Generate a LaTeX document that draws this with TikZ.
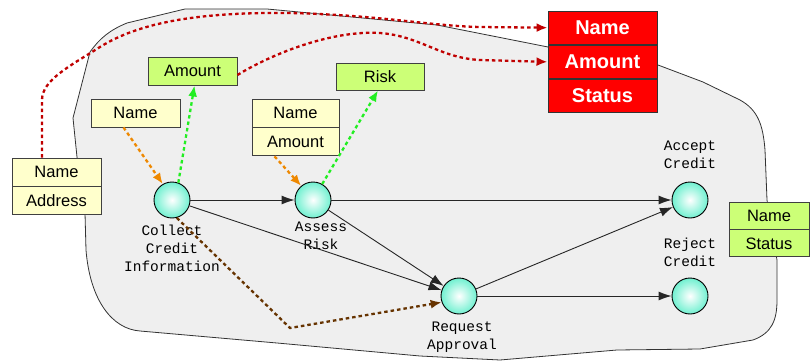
\documentclass[tikz,border=0pt]{standalone}
\usepackage{fontspec}
\setmainfont{Liberation Sans}
\newfontfamily\labelfont{Liberation Mono}
\usetikzlibrary{positioning,arrows.meta}

\definecolor{blobgray}{HTML}{EFEFEF}
\definecolor{boxyellow}{HTML}{FFFFCC}
\definecolor{boxgreen}{HTML}{CCFF77}
\definecolor{dotred}{HTML}{C00000}
\definecolor{dotorange}{HTML}{EE8800}
\definecolor{dotgreen}{HTML}{22EE22}
\definecolor{dotbrown}{HTML}{663300}
\definecolor{ballcyan}{HTML}{70F0D0}

\begin{document}
\begin{tikzpicture}[x=1pt, y=-1pt,
  font=\fontsize{16.5}{18}\selectfont,
  field/.style={draw=black!75, line width=0.9pt, minimum height=28pt, inner sep=0pt},
  yfield/.style={field, fill=boxyellow, minimum width=89pt},
  gfield/.style={field, fill=boxgreen},
  rfield/.style={draw=black!80, line width=0.9pt, fill=red, text=white,
    minimum width=109pt, minimum height=33.3pt, inner sep=0pt,
    font=\fontsize{20}{22}\selectfont\bfseries},
  act/.style={circle, draw=black, line width=0.9pt, minimum size=36pt,
    inner sep=0pt, inner color=white, outer color=ballcyan},
  lbl/.style={align=center, inner sep=0pt, font=\labelfont\fontsize{14.5}{18}\selectfont},
  flow/.style={draw=black!85, line width=0.9pt, -{Latex[length=13pt,width=9pt]}},
  dots/.style={line width=2.3pt, dash pattern=on 3.5pt off 3pt, -{Latex[length=11pt,width=9pt]}},
]
  \useasboundingbox (0,0) rectangle (811,361);

  % process region
  \draw[fill=blobgray, draw=black!80, line width=0.8pt]
    (77,157) -- (73,118) -- (90,52) .. controls (100,38) and (110,30) .. (127,23)
    -- (185,9) -- (267,9) -- (437,25) -- (548,47) -- (658,65) -- (703,82) -- (740,100)
    .. controls (758,110) and (763,125) .. (765,150) -- (767,200) -- (777,260) -- (777,300)
    .. controls (777,320) and (772,333) .. (753,340) -- (700,349) -- (617,350)
    -- (500,360) -- (420,356) -- (277,343) -- (140,331)
    .. controls (112,329) and (90,300) .. (86,250) -- (85,213) -- cycle;

  % activities
  \node[act] (collect) at (172,200) {};
  \node[act] (assess)  at (313,200) {};
  \node[act] (request) at (459,296) {};
  \node[act] (accept)  at (690,200) {};
  \node[act] (reject)  at (690,296) {};

  \node[lbl] (collectlbl) at (172,248) {Collect\\Credit\\Information};
  \node[lbl] (assesslbl)  at (321,236) {Assess\\Risk};
  \node[lbl] (requestlbl) at (462,337) {Request\\Approval};
  \node[lbl] (acceptlbl)  at (690,155) {Accept\\Credit};
  \node[lbl] (rejectlbl)  at (690,252) {Reject\\Credit};

  % data fields
  \node[yfield] (lname) at (56.5,172) {Name};
  \node[yfield, below=0pt of lname] (laddress) {Address};

  \node[yfield] (yname) at (135.5,113) {Name};
  \node[gfield, minimum width=89pt] (gamount) at (192.5,71) {Amount};

  \node[yfield, minimum width=87pt] (yname2) at (295.5,113) {Name};
  \node[yfield, minimum width=87pt, below=0pt of yname2] (yamount) {Amount};
  \node[gfield, minimum width=88pt, minimum height=27pt] (risk) at (380,76.5) {Risk};

  \node[rfield] (rname) at (602.5,27.7) {Name};
  \node[rfield, below=0pt of rname] (ramount) {Amount};
  \node[rfield, below=0pt of ramount] (rstatus) {Status};

  \node[gfield, minimum width=80pt, minimum height=27pt] (gname) at (769,215.5) {Name};
  \node[gfield, minimum width=80pt, minimum height=27pt, below=0pt of gname] (gstatus) {Status};

  % control flow
  \draw[flow] (collect) -- (assess);
  \draw[flow] (assess) -- (accept);
  \draw[flow] (collect) -- (request);
  \draw[flow] (assess) -- (request);
  \draw[flow] (request) -- (accept);
  \draw[flow] (request) -- (reject);

  % data flow
  \draw[dots, dotred] ([xshift=-14.5pt]lname.north) -- (42,100)
    .. controls (42,80) and (70,66) .. (100,47)
    .. controls (140,22) and (200,12) .. (290,13)
    .. controls (380,15) and (430,26) .. (480,27) -- (rname.west);
  \draw[dots, dotred] ([yshift=-4pt]gamount.east) .. controls (270,55) and (330,30) .. (380,33)
    .. controls (420,36) and (440,58) .. (480,60) -- (ramount.west);
  \draw[dots, dotorange] ([xshift=-12pt]yname.south) -- (collect.120);
  \draw[dots, dotgreen] (collect.70) -- ([xshift=2pt]gamount.south);
  \draw[dots, dotorange] ([xshift=-21pt]yamount.south) -- (assess.130);
  \draw[dots, dotgreen] (assess.60) -- ([xshift=-2pt]risk.south);
  \coordinate (bend) at (290,328);
  \draw[dots, dotbrown] (collect.-75) -- (bend) -- (request.200);
\end{tikzpicture}
\end{document}
